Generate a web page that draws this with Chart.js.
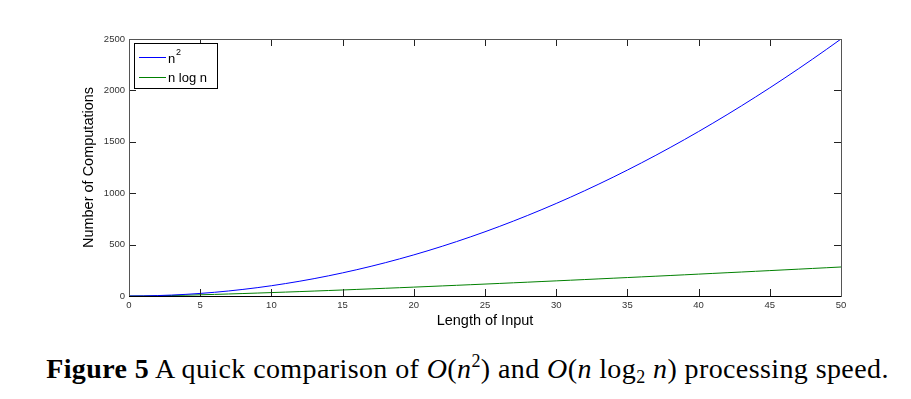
<!DOCTYPE html>
<html>
<head>
<meta charset="utf-8">
<script src="https://cdn.jsdelivr.net/npm/chart.js@4"></script>
<style>
  body { margin: 0; background: #fff; width: 911px; height: 399px; overflow: hidden; position: relative; }
  #wrap { position: absolute; left: 0; top: 0; width: 911px; height: 340px; }
  #caption { position: absolute; left: 12px; width: 911px; top: 353px; text-align: center;
             font-family: "Liberation Serif", serif; font-size: 28px; letter-spacing: 0.4px;
             line-height: 31px; color: #000; white-space: nowrap; }
  #caption i { font-style: italic; }
  #caption sub { font-size: 18px; vertical-align: -5px; line-height: 0; }
  #caption sup { font-size: 18px; vertical-align: 11px; line-height: 0; }
</style>
</head>
<body>
<div id="wrap"><canvas id="chart"></canvas></div>
<div id="caption"><b>Figure 5</b> A quick comparison of <i>O</i>(<i>n</i><sup>2</sup>) and <i>O</i>(<i>n</i> log<sub>2</sub> <i>n</i>) processing speed.</div>
<script>
const inputLength = [0,1,2,3,4,5,6,7,8,9,10,11,12,13,14,15,16,17,18,19,20,21,22,23,24,25,
    26,27,28,29,30,31,32,33,34,35,36,37,38,39,40,41,42,43,44,45,46,47,48,49,50];
const nSquared = [0,1,4,9,16,25,36,49,64,81,100,121,144,169,196,225,256,289,324,361,400,
    441,484,529,576,625,676,729,784,841,900,961,1024,1089,1156,1225,1296,1369,1444,1521,1600,
    1681,1764,1849,1936,2025,2116,2209,2304,2401,2500];
const nLogN = [0,0,2,4.75,8,11.6,15.5,19.7,24,28.5,33.2,38.1,43,48.1,53.3,58.6,64,69.5,75.1,
    80.7,86.4,92.2,98.1,104,110,116.1,122.2,128.4,134.6,140.9,147.2,153.6,160,166.5,173,179.5,
    186.1,192.7,199.4,206.1,212.9,219.7,226.5,233.3,240.2,247.1,254.1,261.1,268.1,275.1,282.2];
const seriesLabels = ['n\u00B2', 'n log n'];
const seriesColors = ['#0000ff', '#008000'];

const toPoints = (xs, ys) => xs.map((x, i) => ({ x, y: ys[i] }));

// matlab style box, inward ticks on all four sides, legend inside the axes
const boxPlugin = {
    id: 'box',
    afterDraw(chart) {
        const { ctx, chartArea: a, scales } = chart;
        ctx.save();
        ctx.lineWidth = 1;
        ctx.strokeStyle = '#222';
        ctx.beginPath();
        scales.x.ticks.forEach(t => {
            const px = Math.round(scales.x.getPixelForValue(t.value)) + 0.5;
            ctx.moveTo(px, a.bottom); ctx.lineTo(px, a.bottom - 7);
            ctx.moveTo(px, a.top); ctx.lineTo(px, a.top + 7);
        });
        scales.y.ticks.forEach(t => {
            const py = Math.round(scales.y.getPixelForValue(t.value)) + 0.5;
            ctx.moveTo(a.left, py); ctx.lineTo(a.left + 7, py);
            ctx.moveTo(a.right, py); ctx.lineTo(a.right - 7, py);
        });
        ctx.stroke();
        ctx.strokeStyle = '#555';
        ctx.strokeRect(Math.round(a.left) + 0.5, Math.round(a.top) + 0.5,
            Math.round(a.right - a.left), Math.round(a.bottom - a.top));
        ctx.strokeStyle = '#000';
        ctx.beginPath();
        ctx.moveTo(a.left, Math.round(a.bottom) + 0.5);
        ctx.lineTo(a.right, Math.round(a.bottom) + 0.5);
        ctx.stroke();

        // legend
        const lx = Math.round(a.left) + 5, ly = Math.round(a.top) + 4, lw = 83, lh = 45;
        ctx.fillStyle = '#fff';
        ctx.fillRect(lx, ly, lw, lh);
        ctx.strokeStyle = '#000';
        ctx.strokeRect(lx + 0.5, ly + 0.5, lw, lh);
        const font = '13px "Liberation Sans", Arial, sans-serif';
        ctx.font = font;
        ctx.textBaseline = 'middle';
        seriesLabels.forEach((label, i) => {
            const yy = ly + 14 + i * 20;
            ctx.fillStyle = seriesColors[i];
            ctx.fillRect(lx + 5, yy, 27, 1);
            ctx.fillStyle = '#000';
            if (i === 0) {
                ctx.fillText('n', lx + 34, yy + 2);
                ctx.font = '9px "Liberation Sans", Arial, sans-serif';
                ctx.fillText('2', lx + 42, yy - 4);
                ctx.font = font;
            } else {
                ctx.fillText(label, lx + 34, yy + 1);
            }
        });
        ctx.restore();
    }
};

const tickFont = { family: '"Liberation Sans", Arial, sans-serif', size: 9.5 };
const titleFont = { family: '"Liberation Sans", Arial, sans-serif', size: 14.5 };
const plain = v => String(v);

new Chart(document.getElementById('chart'), {
    type: 'line',
    data: {
        datasets: [
            { label: seriesLabels[0], data: toPoints(inputLength, nSquared), borderColor: seriesColors[0],
              borderWidth: 1, pointRadius: 0, tension: 0, fill: false },
            { label: seriesLabels[1], data: toPoints(inputLength, nLogN), borderColor: seriesColors[1],
              borderWidth: 1, pointRadius: 0, tension: 0, fill: false }
        ]
    },
    options: {
        responsive: true,
        maintainAspectRatio: false,
        animation: false,
        events: [],
        layout: { padding: { left: 76, top: 39, right: 70, bottom: 7 } },
        plugins: { legend: { display: false }, tooltip: { enabled: false } },
        scales: {
            x: {
                type: 'linear', min: 0, max: 50,
                ticks: { stepSize: 5, color: '#333', font: tickFont, padding: 4, maxRotation: 0, callback: plain },
                grid: { drawOnChartArea: false, drawTicks: false },
                border: { display: false },
                title: { display: true, text: 'Length of Input', color: '#000', font: titleFont, padding: { top: 2, bottom: 3 } },
                afterFit(s) { s.height = 37; }
            },
            y: {
                min: 0, max: 2500,
                ticks: { stepSize: 500, color: '#333', font: tickFont, padding: 4, callback: plain },
                grid: { drawOnChartArea: false, drawTicks: false },
                border: { display: false },
                title: { display: true, text: 'Number of Computations', color: '#000', font: titleFont, padding: { top: 4, bottom: 4 } },
                afterFit(s) { s.width = 53; }
            }
        }
    },
    plugins: [boxPlugin]
});
</script>
</body>
</html>
